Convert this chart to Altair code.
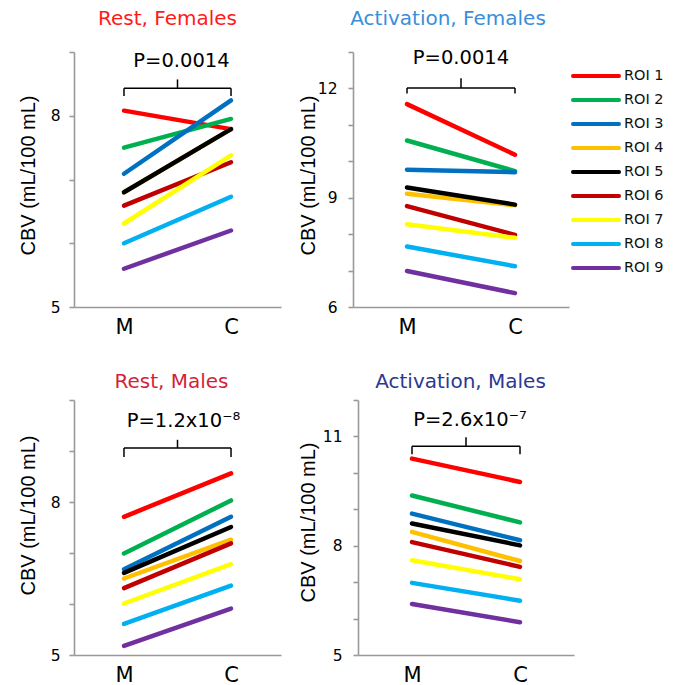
import altair as alt
import pandas as pd

# ---------------- data ----------------
rois = ["ROI 1", "ROI 2", "ROI 3", "ROI 4", "ROI 5", "ROI 6", "ROI 7", "ROI 8", "ROI 9"]
roi_colors = ["#FF0000", "#00B050", "#0070C0", "#FFC000", "#000000",
              "#C00000", "#FFFF00", "#00B0F0", "#7030A0"]
cond_labels = ["M", "C"]

# CBV values (mL/100 mL) at M and C, ROI 1..9
rest_f_m = [8.08, 7.50, 7.09, 6.80, 6.80, 6.59, 6.31, 6.00, 5.60]
rest_f_c = [7.79, 7.95, 8.24, 7.79, 7.79, 7.27, 7.38, 6.73, 6.20]
act_f_m = [11.57, 10.57, 9.77, 9.11, 9.28, 8.77, 8.27, 7.66, 6.99]
act_f_c = [10.18, 9.73, 9.70, 8.79, 8.81, 7.98, 7.90, 7.12, 6.38]
rest_m_m = [7.71, 6.99, 6.68, 6.50, 6.61, 6.31, 6.01, 5.61, 5.18]
rest_m_c = [8.56, 8.03, 7.71, 7.26, 7.51, 7.19, 6.78, 6.36, 5.91]
act_m_m = [10.39, 9.38, 8.88, 8.38, 8.61, 8.10, 7.60, 6.98, 6.40]
act_m_c = [9.75, 8.64, 8.15, 7.58, 8.01, 7.42, 7.08, 6.49, 5.90]

titles = ["Rest, Females", "Activation, Females", "Rest, Males", "Activation, Males"]
p_labels = ["P=0.0014", "P=0.0014", "P=1.2x10\u207b\u2078", "P=2.6x10\u207b\u2077"]
y_domains = [[5, 9], [6, 13], [5, 10], [5, 12]]
y_ticks = [[5, 6, 7, 8, 9], [6, 7, 8, 9, 10, 11, 12, 13],
           [5, 6, 7, 8, 9, 10], [5, 6, 7, 8, 9, 10, 11, 12]]
y_labels = [[5, 8], [6, 9, 12], [5, 8], [5, 8, 11]]
# bracket annotation levels: [bar, ends, centre tip], P text baseline
brackets = [[8.43, 8.31, 8.57], [12.01, 11.86, 12.28], [9.06, 8.88, 9.22], [10.73, 10.51, 10.98]]
p_text_y = [8.77, 12.68, 9.47, 11.30]

# ---------------- styling ----------------
FONT = "DejaVu Sans"
YT_FONT = "Liberation Sans"
AX = "#999999"
title_colors = ["#FF1A1A", "#3A8EDB", "#D41F3A", "#2B3990"]
widths = [207, 216, 207, 221]
x_ranges = [[0, 207], [0, 216], [0, 207], [5, 221]]
y_axis_offset = [0, 0, 0, -5]
x_domains = [[-0.467, 1.467], [-0.5, 1.5], [-0.467, 1.467], [-0.5, 1.5]]
title_dx = [-10, -13, -6, -3]
title_offset = [5.5, 2.5, -8.5, -8.5]
ylab_pad = [9, 11, 9, 11]
ytitle_x = [-40, -39, -40, -44]
ytitle_y = [123, 123, 115, 122]
ptext_dx = [4, 0, 6, 4]

cscale = alt.Scale(domain=rois, range=roi_colors)


def panel(i, m_vals, c_vals, legend_layer=None):
    df = pd.DataFrame({
        "roi": rois * 2,
        "x": [0] * len(rois) + [1] * len(rois),
        "cond": [cond_labels[0]] * len(rois) + [cond_labels[1]] * len(rois),
        "cbv": m_vals + c_vals,
    })
    xs = alt.Scale(domain=x_domains[i], range=x_ranges[i], nice=False, zero=False)
    ys = alt.Scale(domain=y_domains[i], nice=False, zero=False)
    xaxis = alt.Axis(values=[0, 1],
                     labelExpr=f"datum.value == 0 ? '{cond_labels[0]}' : '{cond_labels[1]}'",
                     ticks=False, tickSize=0, labelPadding=9, title=None, grid=False,
                     domainColor=AX, domainWidth=1.6, labelFont=FONT, labelFontSize=21,
                     labelColor="black")
    lab_list = ",".join(str(v) for v in y_labels[i])
    yaxis = alt.Axis(values=y_ticks[i],
                     labelExpr=f"indexof([{lab_list}], datum.value) >= 0 ? datum.label : ''",
                     tickSize=5, tickColor=AX, tickWidth=1.6, domainColor=AX, domainWidth=1.6,
                     labelPadding=ylab_pad[i], labelFont=FONT, labelFontSize=15.5,
                     labelColor="black", grid=False, offset=y_axis_offset[i],
                     title="CBV (mL/100 mL)", titleFont=YT_FONT, titleFontSize=20,
                     titleFontWeight="normal", titleColor="black",
                     titleX=ytitle_x[i], titleY=ytitle_y[i], titleAlign="center",
                     titleBaseline="alphabetic", titleAngle=270)
    X = alt.X("x:Q", scale=xs, axis=xaxis)
    lines = alt.Chart(df).mark_line(strokeWidth=4.5, strokeCap="round").encode(
        x=X,
        y=alt.Y("cbv:Q", scale=ys, axis=yaxis),
        color=alt.Color("roi:N", scale=cscale, legend=None),
    )
    h, e, t = brackets[i]
    bdf = pd.DataFrame({"x": [0, 0, 1, 0.5], "x2": [1, 0, 1, 0.5],
                        "y": [h, h, h, h], "y2": [h, e, e, t]})
    bracket = alt.Chart(bdf).mark_rule(color="black", strokeWidth=1.5).encode(
        x=X, x2="x2:Q", y=alt.Y("y:Q", scale=ys, axis=yaxis), y2="y2:Q")
    tdf = pd.DataFrame({"x": [0.5], "y": [p_text_y[i]], "label": [p_labels[i]]})
    ptext = alt.Chart(tdf).mark_text(font=FONT, fontSize=19.5, color="black",
                                     baseline="alphabetic", align="center",
                                     dx=ptext_dx[i]).encode(
        x=X, y=alt.Y("y:Q", scale=ys, axis=yaxis), text="label:N")
    main = alt.layer(lines, bracket, ptext)
    if legend_layer is not None:
        ch = alt.layer(main, legend_layer).resolve_scale(y="independent")
    else:
        ch = main
    return ch.properties(
        width=widths[i], height=255,
        title=alt.TitleParams(text=titles[i], color=title_colors[i], font=FONT,
                              fontSize=20, fontWeight="normal", anchor="middle",
                              frame="group", dx=title_dx[i], offset=title_offset[i],
                              baseline="alphabetic"))


# legend (drawn inside the top-right panel's group)
leg_df = pd.DataFrame({"roi": rois})
ly = alt.Y("roi:N", sort=rois, scale=alt.Scale(type="point", range=[24, 216], padding=0), axis=None)
leg_lines = alt.Chart(leg_df).mark_rule(strokeWidth=4, strokeCap="round").encode(
    x=alt.value(220), x2=alt.value(266), y=ly,
    color=alt.Color("roi:N", scale=cscale, legend=None))
leg_text = alt.Chart(leg_df).mark_text(align="left", baseline="middle", font=FONT,
                                       fontSize=14.5, color="#111111").encode(
    x=alt.value(271), y=ly, text="roi:N")
legend = alt.layer(leg_lines, leg_text)

p1 = panel(0, rest_f_m, rest_f_c)
p2 = panel(1, act_f_m, act_f_c, legend)
p3 = panel(2, rest_m_m, rest_m_c)
p4 = panel(3, act_m_m, act_m_c)

chart = alt.concat(p1, p2, p3, p4, columns=2, spacing={"row": 93, "column": 72},
                   bounds="flush").properties(
    padding={"left": 9, "top": 1, "right": 0, "bottom": 0},
    background="white",
).configure_view(stroke=None)

chart.save("out.html", embed_options={"renderer": "svg", "actions": False})
